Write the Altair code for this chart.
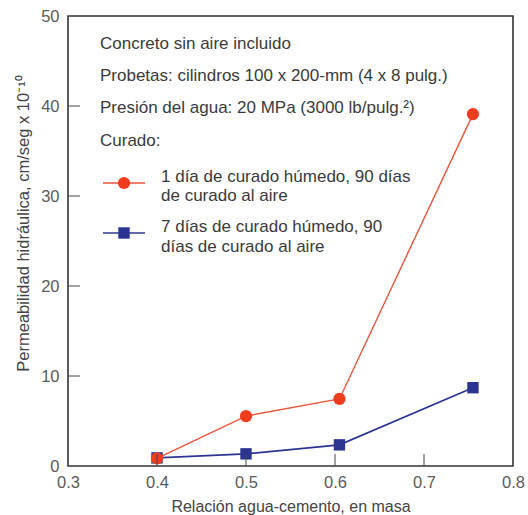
import altair as alt
import pandas as pd

# ---- data ----
ratio_red = [0.4, 0.5, 0.605, 0.755]
perm_red = [0.85, 5.55, 7.45, 39.1]
ratio_blue = [0.4, 0.5, 0.605, 0.755]
perm_blue = [0.9, 1.35, 2.35, 8.7]
x_ticks = [0.3, 0.4, 0.5, 0.6, 0.7, 0.8]
y_ticks = [0, 10, 20, 30, 40, 50]
inner_x_ticks = [0.4, 0.5, 0.6, 0.7]
inner_y_ticks = [10, 20, 30, 40]

notes = [
    "Concreto sin aire incluido",
    "Probetas: cilindros 100 x 200-mm (4 x 8 pulg.)",
    "Presión del agua: 20 MPa (3000 lb/pulg.²)",
    "Curado:",
]
red_label = ["1 día de curado húmedo, 90 días", "de curado al aire"]
blue_label = ["7 días de curado húmedo, 90", "días de curado al aire"]

RED_LINE = "#e8553c"
RED_FILL = "#f03c1e"
BLUE = "#2b3591"
TXT = "#3a3a3a"
FONT = "Liberation Sans"
NOTE_SIZE = 17

W, H = 445, 450

red_df = pd.DataFrame({"x": ratio_red, "y": perm_red})
blue_df = pd.DataFrame({"x": ratio_blue, "y": perm_blue})

xs = alt.Scale(domain=[0.3, 0.8], nice=False)
ys = alt.Scale(domain=[0, 50], nice=False)

xax = alt.Axis(values=x_ticks, format=".1f", title="Relación agua-cemento, en masa",
               grid=False, ticks=False, domain=False, labelFontSize=16.5, labelColor="#5a5a5a",
               labelPadding=8, labelFlush=False, labelOverlap=False,
               titleFontSize=16, titleFontWeight="normal", titleColor="#444444",
               titlePadding=8, labelFont=FONT, titleFont=FONT)
yax = alt.Axis(values=y_ticks, format="d",
               title="Permeabilidad hidráulica, cm/seg x 10⁻¹⁰",
               grid=False, ticks=False, domain=False, labelFontSize=16.5, labelColor="#5a5a5a",
               labelPadding=9, labelFlush=False, labelOverlap=False,
               titleFontSize=16.5, titleFontWeight="normal", titleColor="#444444",
               titleX=-45, titleY=207, titleBaseline="middle", titleAlign="center",
               labelFont=FONT, titleFont=FONT)

base_red = alt.Chart(red_df)
base_blue = alt.Chart(blue_df)

blue_line = base_blue.mark_line(color=BLUE, strokeWidth=1.6).encode(
    x=alt.X("x:Q", scale=xs, axis=xax), y=alt.Y("y:Q", scale=ys, axis=yax))
blue_pts = base_blue.mark_point(shape="square", filled=True, color=BLUE, size=130, opacity=1).encode(
    x=alt.X("x:Q", scale=xs), y=alt.Y("y:Q", scale=ys))
red_line = base_red.mark_line(color=RED_LINE, strokeWidth=1.4).encode(
    x=alt.X("x:Q", scale=xs), y=alt.Y("y:Q", scale=ys))
red_pts = base_red.mark_point(shape="circle", filled=True, color=RED_FILL, size=150, opacity=1).encode(
    x=alt.X("x:Q", scale=xs), y=alt.Y("y:Q", scale=ys))

# inward tick marks
xt = alt.Chart(pd.DataFrame({"t": inner_x_ticks})).mark_rule(color="#444444", strokeWidth=1).encode(
    x=alt.X("t:Q", scale=xs), y=alt.value(H), y2=alt.value(H - 12))
yt = alt.Chart(pd.DataFrame({"t": inner_y_ticks})).mark_rule(color="#444444", strokeWidth=1).encode(
    y=alt.Y("t:Q", scale=ys), x=alt.value(0), x2=alt.value(12))

# annotation text
note_y = [28, 60, 92, 125]
layers = []


def text_layer(txt, px, py):
    return alt.Chart(pd.DataFrame({"t": [txt]})).mark_text(
        align="left", baseline="middle", font=FONT, fontSize=NOTE_SIZE, color=TXT).encode(
        text="t:N", x=alt.value(px), y=alt.value(py))


for txt, py in zip(notes, note_y):
    layers.append(text_layer(txt, 32, py))
for txt, py in zip(red_label, [161, 180]):
    layers.append(text_layer(txt, 93, py))
for txt, py in zip(blue_label, [211, 231]):
    layers.append(text_layer(txt, 93, py))

# legend symbols
leg = []
leg.append(alt.Chart(pd.DataFrame({"k": [1]})).mark_rule(color=RED_LINE, strokeWidth=1.6).encode(
    x=alt.value(35), x2=alt.value(77), y=alt.value(167)))
leg.append(alt.Chart(pd.DataFrame({"k": [1]})).mark_point(shape="circle", filled=True, color=RED_FILL,
                                                          size=150, opacity=1).encode(
    x=alt.value(56), y=alt.value(167)))
leg.append(alt.Chart(pd.DataFrame({"k": [1]})).mark_rule(color=BLUE, strokeWidth=1.6).encode(
    x=alt.value(35), x2=alt.value(77), y=alt.value(217)))
leg.append(alt.Chart(pd.DataFrame({"k": [1]})).mark_point(shape="square", filled=True, color=BLUE,
                                                          size=130, opacity=1).encode(
    x=alt.value(56), y=alt.value(217)))

chart = alt.layer(blue_line, red_line, blue_pts, red_pts, xt, yt, *leg, *layers).properties(
    width=W, height=H,
    autosize=alt.AutoSizeParams(type="none"),
    padding={"left": 68, "top": 16, "right": 15, "bottom": 49},
    background="white",
).configure_view(stroke="#333333", strokeWidth=1.6)

chart.save("out.html", embed_options={"renderer": "svg", "actions": False})
